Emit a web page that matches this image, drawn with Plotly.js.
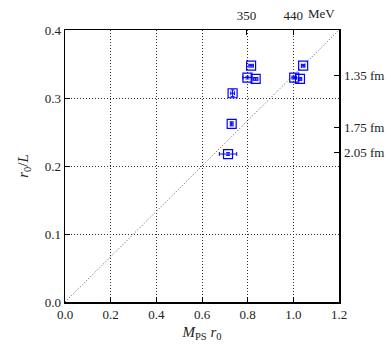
<!DOCTYPE html>
<html><head><meta charset="utf-8">
<script src="https://cdn.plot.ly/plotly-3.0.1.min.js"></script>
<style>body{margin:0;padding:0;background:#fff}#chart{width:391px;height:345px}</style>
</head><body><div id="chart"></div>
<script>
// data
const mpsR0   = [0.815, 0.799, 0.835, 1.043, 1.004, 1.029, 0.734, 0.730, 0.714];
const r0OverL = [0.3475, 0.330, 0.328, 0.3475, 0.330, 0.328, 0.307, 0.262, 0.2176];
const xErr    = [0.010, 0.020, 0.010, 0.008, 0.010, 0.008, 0.008, 0.006, 0.038];
const yErr    = [0.002, 0.002, 0.002, 0.002, 0.002, 0.002, 0.005, 0.003, 0.002];
const diagX = [0, 1.2];
const diagY = [0, 0.4];
const xTicks = [0, 0.2, 0.4, 0.6, 0.8, 1.0, 1.2];
const xTickText = ['0.0','0.2','0.4','0.6','0.8','1.0','1.2'];
const yTicks = [0, 0.1, 0.2, 0.3, 0.4];
const yTickText = ['0.0','0.1','0.2','0.3','0.4'];
const topTicks = [0.795, 1.0];
const topTickText = ['350', '440'];
const rightTicks = [0.45/1.35, 0.45/1.75, 0.45/2.05];
const rightTickText = ['1.35 fm', '1.75 fm', '2.05 fm'];

const font = {family: 'Liberation Serif', size: 13, color: '#222'};
const titleFont = {family: 'Liberation Serif', size: 15, color: '#222'};
const traces = [
  {x: diagX, y: diagY, mode: 'lines', line: {color: '#555', width: 1, dash: '1px,2px'}, hoverinfo: 'skip', showlegend: false},
  {x: mpsR0, y: r0OverL, mode: 'markers', showlegend: false,
   marker: {symbol: 'square-open', size: 9, color: '#0000ff', line: {width: 1.2, color: '#0000ff'}},
   error_x: {type: 'data', array: xErr, visible: true, color: '#0000ff', thickness: 1, width: 2},
   error_y: {type: 'data', array: yErr, visible: true, color: '#0000ff', thickness: 1, width: 2}},
  {x: [0.5], y: [0.1], xaxis: 'x2', yaxis: 'y2', mode: 'markers', marker: {opacity: 0}, hoverinfo: 'skip', showlegend: false}
];
const layout = {
  width: 391, height: 345,
  margin: {l: 65, r: 52, t: 30, b: 43},
  paper_bgcolor: '#fff', plot_bgcolor: '#fff',
  font: font,
  xaxis: {range: [0, 1.2], tickvals: xTicks, ticktext: xTickText, ticks: 'inside', ticklen: 5, tickcolor: '#000',
          tickfont: font,
          showline: true, linecolor: '#000', linewidth: 1.5, mirror: true,
          showgrid: true, gridcolor: '#333', griddash: '1px,2px', gridwidth: 1, zeroline: false,
          title: {text: '<i>M</i><sub>PS</sub> <i>r</i><sub>0</sub>', font: titleFont, standoff: 5}},
  yaxis: {range: [0, 0.4], tickvals: yTicks, ticktext: yTickText, ticks: 'inside', ticklen: 5, tickcolor: '#000',
          tickfont: font,
          showline: true, linecolor: '#000', linewidth: 1.5, mirror: true,
          showgrid: true, gridcolor: '#333', griddash: '1px,2px', gridwidth: 1, zeroline: false,
          title: {text: '<i>r</i><sub>0</sub>/<i>L</i>', font: titleFont, standoff: 12}},
  xaxis2: {overlaying: 'x', side: 'top', range: [0, 1.2], tickvals: topTicks, ticktext: topTickText,
           tickfont: font, ticklabelstandoff: 6,
           ticks: 'inside', ticklen: 5, tickcolor: '#000', showgrid: false, zeroline: false, showline: false},
  yaxis2: {overlaying: 'y', side: 'right', range: [0, 0.4], tickvals: rightTicks, ticktext: rightTickText,
           tickfont: font, ticklabelstandoff: 4,
           ticks: 'inside', ticklen: 5, tickcolor: '#000', showgrid: false, zeroline: false, showline: false},
  annotations: [{xref: 'x', yref: 'paper', x: 1.125, y: 1.0, xanchor: 'center', yanchor: 'bottom', yshift: 7,
                 text: 'MeV', showarrow: false, font: font}]
};
Plotly.newPlot('chart', traces, layout, {displayModeBar: false, staticPlot: true});
</script></body></html>
